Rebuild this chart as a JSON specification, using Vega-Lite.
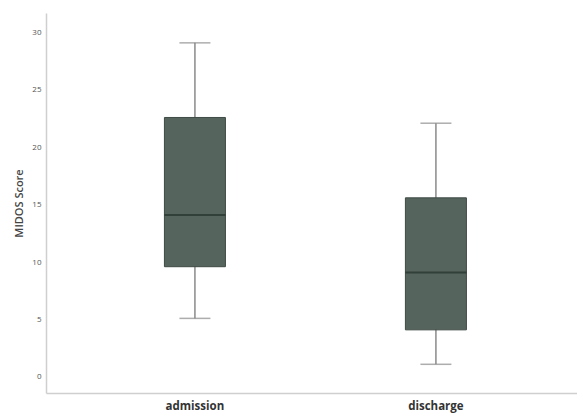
{
  "$schema": "https://vega.github.io/schema/vega-lite/v6.json",
  "width": 531,
  "height": 380,
  "autosize": {"type": "none"},
  "padding": {"left": 46, "top": 13, "right": 0, "bottom": 23},
  "background": "white",
  "config": {
    "view": {"stroke": null},
    "font": "Open Sans"
  },
  "data": {
    "values": [
      {"group": "admission", "min": 5.1, "q1": 9.6, "median": 14.1, "q3": 22.6, "max": 29.1},
      {"group": "discharge", "min": 1.1, "q1": 4.1, "median": 9.1, "q3": 15.6, "max": 22.1}
    ]
  },
  "encoding": {
    "x": {
      "field": "group",
      "type": "nominal",
      "sort": null,
      "scale": {"paddingInner": 0, "paddingOuter": 0.1017, "align": 0.58},
      "axis": {
        "title": null,
        "labelAngle": 0,
        "ticks": false,
        "domainColor": "#cfcfcf",
        "domainWidth": 1.5,
        "labelFontSize": 11.5,
        "labelFontWeight": "bold",
        "labelColor": "#333333",
        "labelPadding": 7,
        "grid": false
      }
    }
  },
  "layer": [
    {
      "mark": {"type": "rule", "color": "#8a8a8a", "strokeWidth": 1.5},
      "encoding": {
        "y": {
          "field": "min",
          "type": "quantitative",
          "scale": {"domain": [-1.4, 31.7], "nice": false, "zero": false},
          "axis": {
            "title": "MIDOS Score",
            "titleFontSize": 11,
            "titleFontWeight": 600,
            "titleColor": "#444444",
            "titlePadding": 7,
            "values": [0, 5, 10, 15, 20, 25, 30],
            "ticks": false,
            "grid": false,
            "labelFontSize": 8,
            "labelColor": "#555555",
            "labelPadding": 5,
            "domainColor": "#cfcfcf",
            "domainWidth": 1.5
          }
        },
        "y2": {"field": "max"}
      }
    },
    {
      "mark": {"type": "tick", "color": "#8a8a8a", "size": 31, "thickness": 1.5},
      "encoding": {"y": {"field": "min", "type": "quantitative"}}
    },
    {
      "mark": {"type": "tick", "color": "#8a8a8a", "size": 31, "thickness": 1.5},
      "encoding": {"y": {"field": "max", "type": "quantitative"}}
    },
    {
      "mark": {"type": "bar", "size": 61, "fill": "#56645e", "stroke": "#3f4a45", "strokeWidth": 1},
      "encoding": {
        "y": {"field": "q1", "type": "quantitative"},
        "y2": {"field": "q3"}
      }
    },
    {
      "mark": {"type": "tick", "color": "#22302a", "size": 61, "thickness": 2},
      "encoding": {"y": {"field": "median", "type": "quantitative"}}
    }
  ]
}
